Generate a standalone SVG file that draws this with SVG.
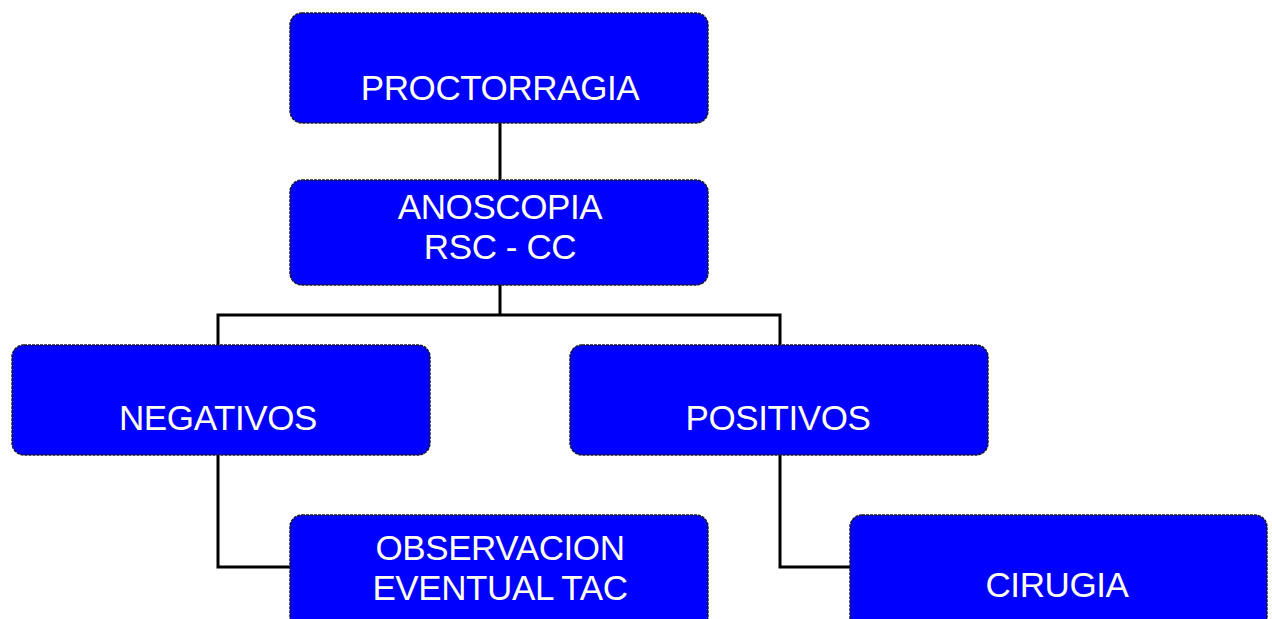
<svg xmlns="http://www.w3.org/2000/svg" width="1272" height="619" viewBox="0 0 1272 619">
<style>
.box{fill:#0000FF;stroke:#1a1a2a;stroke-width:1.5;stroke-dasharray:3 1}
.lbl{font-family:"Liberation Sans",Arial,sans-serif;font-size:35px;fill:#FFFFF0;text-anchor:middle;letter-spacing:-0.4px}
.conn{fill:none;stroke:#000;stroke-width:3}
</style>
<rect width="1272" height="619" fill="#fff"/>
<g id="connectors">
<path class="conn" d="M500,123 V180"/>
<path class="conn" d="M500,285 V315 M218,345 V315 H780 V345"/>
<path class="conn" d="M218,455 V567 H290"/>
<path class="conn" d="M780,455 V567 H850"/>
</g>
<g id="proctorragia">
<rect class="box" x="290" y="13" width="418" height="110" rx="12"/>
<text class="lbl" x="500" y="100">PROCTORRAGIA</text>
</g>
<g id="anoscopia">
<rect class="box" x="290" y="180" width="418" height="105" rx="12"/>
<text class="lbl" x="500" y="219">ANOSCOPIA</text>
<text class="lbl" x="500" y="259">RSC - CC</text>
</g>
<g id="negativos">
<rect class="box" x="12" y="345" width="418" height="110" rx="12"/>
<text class="lbl" x="218" y="430">NEGATIVOS</text>
</g>
<g id="positivos">
<rect class="box" x="570" y="345" width="418" height="110" rx="12"/>
<text class="lbl" x="778" y="430">POSITIVOS</text>
</g>
<g id="observacion">
<rect class="box" x="290" y="515" width="418" height="115" rx="12"/>
<text class="lbl" x="500" y="560">OBSERVACION</text>
<text class="lbl" x="500" y="600">EVENTUAL TAC</text>
</g>
<g id="cirugia">
<rect class="box" x="850" y="515" width="417" height="115" rx="12"/>
<text class="lbl" x="1057" y="597">CIRUGIA</text>
</g>
</svg>
